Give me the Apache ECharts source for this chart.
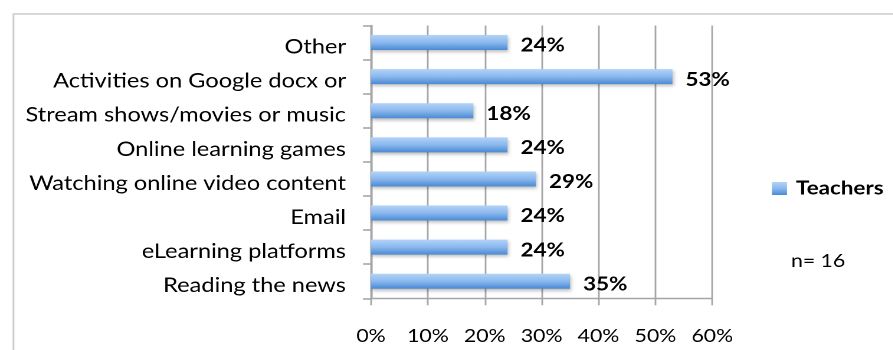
<!DOCTYPE html>
<html>
<head>
<meta charset="utf-8">
<script src="https://cdn.jsdelivr.net/npm/echarts@6/dist/echarts.min.js"></script>
<style>
  html, body { margin: 0; padding: 0; background: #fff; overflow: hidden; width: 893px; height: 350px; }
  #chart { height: 350px; transform-origin: 0 0; }
</style>
</head>
<body>
<div id="chart"></div>
<script>
// Activities, listed bottom to top as the category axis draws them
const categories = [
  'Reading the news',
  'eLearning platforms',
  'Email',
  'Watching online video content',
  'Online learning games',
  'Stream shows/movies or music',
  'Activities on Google docx or',
  'Other'
];
// Share of teachers (%) for each activity
const teachers = [35, 24, 24, 29, 24, 18, 53, 24];
const seriesName = 'Teachers';
const sampleNote = 'n= 16';

// The chart is drawn on a narrower canvas and widened with CSS, giving the
// broad, stretched lettering of the original slide; X() maps page pixels to
// canvas pixels along the horizontal direction.
const STRETCH = 1.18;
const PAGE_W = 893;
const X = px => px / STRETCH;

const FONT = 'Lato, "Open Sans", sans-serif';
const GRID_GREY = '#a6a6a6';

const el = document.getElementById('chart');
el.style.width = X(PAGE_W) + 'px';
el.style.transform = 'scaleX(' + STRETCH + ')';

const chart = echarts.init(el, null, { renderer: 'canvas', devicePixelRatio: 2 });

chart.setOption({
  animation: false,
  backgroundColor: '#fff',
  textStyle: { fontFamily: FONT },
  grid: { left: X(371), right: X(PAGE_W - 712), top: 25.5, bottom: 51.7, containLabel: false },
  legend: {
    data: [seriesName],
    left: X(772),
    top: 179,
    padding: 0,
    icon: 'rect',
    itemWidth: X(15),
    itemHeight: 13,
    itemGap: 8,
    textStyle: {
      fontFamily: FONT, fontSize: 19, fontWeight: 'bold', color: '#000',
      padding: [2, 0, 0, X(3)]
    }
  },
  xAxis: {
    type: 'value',
    min: 0,
    max: 60,
    interval: 10,
    axisLine: { show: true, lineStyle: { color: GRID_GREY, width: 1.4 } },
    axisTick: { show: true, length: 7, lineStyle: { color: GRID_GREY, width: 1.4 } },
    splitLine: { show: true, lineStyle: { color: GRID_GREY, width: 1.4 } },
    axisLabel: {
      formatter: v => v + '%',
      margin: 29,
      color: '#000',
      fontFamily: FONT,
      fontSize: 18
    }
  },
  yAxis: {
    type: 'category',
    data: categories,
    axisLine: { show: true, lineStyle: { color: GRID_GREY, width: 1.6 } },
    axisTick: { show: true, length: X(8), lineStyle: { color: GRID_GREY, width: 1.6 } },
    splitLine: { show: false },
    axisLabel: {
      margin: X(25),
      color: '#000',
      formatter: v => '{c|' + v + '}',
      rich: {
        c: {
          fontFamily: FONT,
          fontSize: 20,
          color: '#000',
          lineHeight: 29,
          verticalAlign: 'bottom'
        }
      }
    }
  },
  series: [{
    name: seriesName,
    type: 'bar',
    data: teachers,
    barWidth: 15,
    itemStyle: {
      color: new echarts.graphic.LinearGradient(0, 0, 0, 1, [
        { offset: 0, color: '#b3d3f8' },
        { offset: 0.5, color: '#8ab8ee' },
        { offset: 1, color: '#4a8ad4' }
      ]),
      shadowColor: 'rgba(0,0,0,0.25)',
      shadowBlur: 3,
      shadowOffsetX: 1,
      shadowOffsetY: 2
    },
    label: {
      show: true,
      position: 'right',
      distance: X(13),
      formatter: p => p.value + '%',
      color: '#000',
      fontFamily: FONT,
      fontSize: 19,
      fontWeight: 'bold',
      offset: [0, 3]
    }
  }],
  graphic: [
    {
      type: 'rect',
      left: X(10.5),
      top: 11.5,
      shape: { width: X(881), height: 360 },
      style: { fill: 'none', stroke: '#cccccc', lineWidth: 1.5 },
      silent: true
    },
    {
      type: 'text',
      left: X(791),
      top: 252,
      style: { text: sampleNote, fill: '#000', font: '18px ' + FONT }
    }
  ]
});
</script>
</body>
</html>
